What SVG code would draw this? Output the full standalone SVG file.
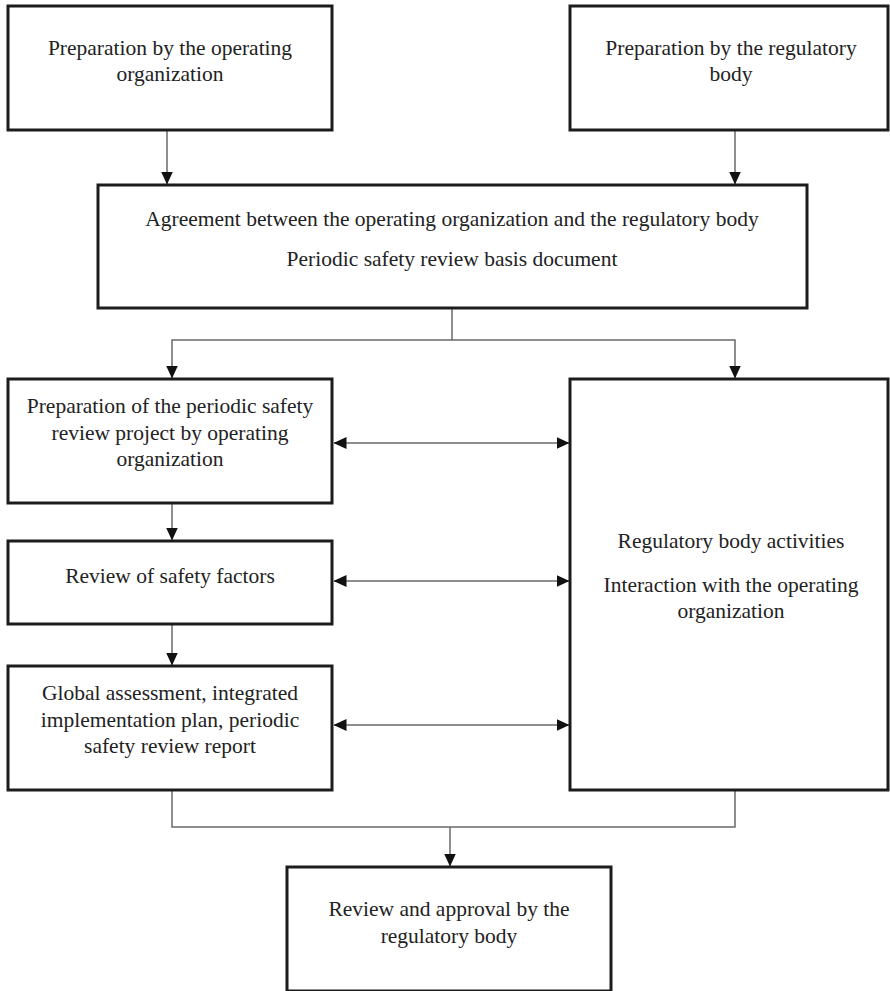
<svg xmlns="http://www.w3.org/2000/svg" width="890" height="991" viewBox="0 0 890 991">
<style>
  .box { fill: #ffffff; stroke: #1c1c1c; stroke-width: 3; }
  .lbl { font-family: "Liberation Serif", "Times New Roman", serif; font-size: 21.5px; fill: #222222; text-anchor: middle; }
  .con { fill: none; stroke: #6a6a6a; stroke-width: 1.5; }
</style>
<defs>
  <marker id="arr" markerUnits="userSpaceOnUse" markerWidth="13" markerHeight="12" viewBox="0 0 13 12" refX="12.5" refY="6" orient="auto-start-reverse">
    <path d="M0,0 L13,6 L0,12 z" fill="#111111"/>
  </marker>
</defs>
<rect width="890" height="991" fill="#ffffff"/>

<g id="connectors">
  <line class="con" x1="167" y1="131" x2="167" y2="184" marker-end="url(#arr)"/>
  <line class="con" x1="735" y1="131" x2="735" y2="184" marker-end="url(#arr)"/>
  <polyline class="con" points="452,309 452,340"/>
  <polyline class="con" points="172,378 172,340 735,340 735,378" marker-start="url(#arr)" marker-end="url(#arr)"/>
  <line class="con" x1="172" y1="504" x2="172" y2="540" marker-end="url(#arr)"/>
  <line class="con" x1="172" y1="625" x2="172" y2="665" marker-end="url(#arr)"/>
  <line class="con" x1="334" y1="443" x2="569" y2="443" marker-start="url(#arr)" marker-end="url(#arr)"/>
  <line class="con" x1="334" y1="581" x2="569" y2="581" marker-start="url(#arr)" marker-end="url(#arr)"/>
  <line class="con" x1="334" y1="725" x2="569" y2="725" marker-start="url(#arr)" marker-end="url(#arr)"/>
  <polyline class="con" points="172,791 172,827 735,827 735,791"/>
  <line class="con" x1="450" y1="827" x2="450" y2="866" marker-end="url(#arr)"/>
</g>

<g id="n-prep-operating">
  <rect class="box" x="8" y="6" width="324" height="124"/>
  <text class="lbl" x="170" y="55">Preparation by the operating</text>
  <text class="lbl" x="170" y="81">organization</text>
</g>

<g id="n-prep-regulatory">
  <rect class="box" x="570" y="6" width="318" height="124"/>
  <text class="lbl" x="731" y="55">Preparation by the regulatory</text>
  <text class="lbl" x="731" y="81">body</text>
</g>

<g id="n-agreement">
  <rect class="box" x="98" y="185" width="709" height="123"/>
  <text class="lbl" x="452" y="226">Agreement between the operating organization and the regulatory body</text>
  <text class="lbl" x="452" y="266">Periodic safety review basis document</text>
</g>

<g id="n-prep-project">
  <rect class="box" x="8" y="379" width="324" height="124"/>
  <text class="lbl" x="170" y="413">Preparation of the periodic safety</text>
  <text class="lbl" x="170" y="440">review project by operating</text>
  <text class="lbl" x="170" y="466">organization</text>
</g>

<g id="n-review-factors">
  <rect class="box" x="8" y="541" width="324" height="83"/>
  <text class="lbl" x="170" y="583">Review of safety factors</text>
</g>

<g id="n-global">
  <rect class="box" x="8" y="666" width="324" height="124"/>
  <text class="lbl" x="170" y="700">Global assessment, integrated</text>
  <text class="lbl" x="170" y="727">implementation plan, periodic</text>
  <text class="lbl" x="170" y="753">safety review report</text>
</g>

<g id="n-regulatory">
  <rect class="box" x="570" y="379" width="318" height="411"/>
  <text class="lbl" x="731" y="548">Regulatory body activities</text>
  <text class="lbl" x="731" y="592">Interaction with the operating</text>
  <text class="lbl" x="731" y="618">organization</text>
</g>

<g id="n-approval">
  <rect class="box" x="287" y="867" width="324" height="124"/>
  <text class="lbl" x="449" y="916">Review and approval by the</text>
  <text class="lbl" x="449" y="943">regulatory body</text>
</g>
</svg>
